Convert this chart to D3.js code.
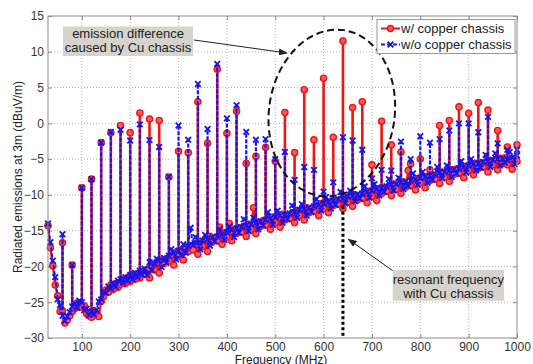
<!DOCTYPE html>
<html>
<head>
<meta charset="utf-8">
<script src="https://cdn.jsdelivr.net/npm/d3@7"></script>
<style>
  body { margin: 0; background: #fff; }
  svg { display: block; font-family: "Liberation Sans", Arial, Helvetica, sans-serif; }
</style>
</head>
<body>
<div id="chart"></div>
<script>
// sweep points, 5 MHz apart (30 ... 1000 MHz)
const freqs = d3.range(30, 1001, 5);

// noise floor w/ copper chassis (dBuV/m), one value per sweep point
const redBase = [
  -14.3, -17.4, -19.9, -22.6, -24.1, -26.3, -26.2, -27.9, -27.5, -26.9,
  -26.3, -25.9, -25.1, -25.6, -25.7, -25.5, -26.6, -26.9, -27.1, -26.2,
  -26.5, -27.0, -24.9, -24.2, -23.3, -23.6, -22.6, -23.2, -22.4, -22.9,
  -22.5, -21.9, -22.4, -21.5, -22.1, -21.1, -21.8, -21.0, -21.6, -20.7,
  -21.0, -20.4, -21.6, -19.9, -20.5, -19.4, -20.9, -19.1, -19.6, -18.9,
  -19.2, -18.5, -19.8, -18.0, -18.6, -17.7, -19.1, -17.3, -17.9, -17.2,
  -17.7, -16.9, -18.3, -16.5, -17.2, -16.3, -17.9, -15.8, -16.6, -16.0,
  -16.4, -14.5, -16.9, -15.3, -15.9, -14.0, -16.4, -14.8, -15.4, -14.6,
  -15.2, -14.4, -15.8, -14.1, -14.8, -11.8, -15.4, -13.8, -14.4, -13.6,
  -14.2, -13.4, -14.8, -13.1, -13.9, -13.0, -14.5, -12.7, -13.5, -12.9,
  -13.3, -12.5, -13.9, -12.2, -12.9, -12.0, -13.5, -11.8, -12.5, -11.9,
  -12.3, -11.5, -12.9, -11.2, -11.9, -11.0, -12.5, -10.9, -11.5, -10.9,
  -11.3, -10.6, -11.9, -10.4, -11.0, -10.2, -11.6, -10.0, -10.7, -10.1,
  -10.5, -9.8, -11.1, -9.5, -10.2, -9.3, -10.8, -9.1, -9.8, -9.2,
  -9.5, -8.8, -10.1, -8.5, -9.2, -8.4, -9.8, -8.2, -8.9, -6.6,
  -8.7, -8.0, -9.3, -7.7, -8.3, -7.5, -9.0, -7.4, -8.0, -7.3,
  -7.8, -7.1, -8.4, -6.8, -7.5, -6.7, -8.1, -6.5, -7.1, -6.4,
  -7.0, -6.3, -7.6, -6.0, -6.6, -5.8, -7.2, -5.6, -6.3, -5.5,
  -6.1, -5.4, -6.8, -5.2, -5.8, -5.1, -6.5, -4.9, -5.6, -4.8,
  -5.8, -5.0, -6.4, -4.9, -5.3
];

// noise floor w/o copper chassis
const blueBase = [
  -14.0, -16.6, -19.2, -21.5, -24.6, -25.4, -26.9, -27.6, -27.0, -26.4,
  -25.6, -25.2, -25.8, -24.8, -25.0, -26.1, -25.9, -26.8, -26.3, -26.7,
  -26.1, -24.9, -24.6, -23.5, -23.7, -22.8, -23.1, -22.3, -22.8, -22.0,
  -21.8, -22.3, -21.5, -22.0, -21.2, -21.8, -20.9, -21.5, -20.6, -21.2,
  -20.3, -21.2, -19.4, -20.5, -19.6, -18.9, -19.2, -20.1, -18.8, -19.5,
  -18.5, -17.6, -18.1, -19.0, -17.8, -18.4, -16.9, -18.1, -17.2, -14.6,
  -17.0, -15.9, -16.7, -17.6, -16.4, -15.6, -16.2, -17.1, -15.9, -16.5,
  -15.8, -14.8, -15.5, -16.3, -15.2, -14.4, -14.9, -15.9, -14.7, -15.3,
  -14.5, -13.4, -14.3, -15.1, -14.1, -13.2, -13.9, -14.8, -13.7, -14.3,
  -13.5, -12.4, -13.3, -14.2, -13.1, -12.2, -12.9, -13.9, -12.8, -13.4,
  -12.6, -11.5, -12.4, -13.2, -12.1, -11.3, -12.0, -12.9, -11.8, -12.4,
  -11.6, -10.6, -11.4, -12.2, -11.2, -10.3, -11.0, -11.9, -10.8, -11.4,
  -10.6, -9.6, -10.5, -11.2, -10.2, -9.4, -10.1, -10.9, -9.9, -10.5,
  -9.8, -8.8, -9.6, -10.4, -9.4, -8.5, -9.2, -10.1, -9.0, -9.6,
  -8.8, -7.8, -8.6, -9.4, -8.5, -7.6, -8.3, -9.2, -8.1, -8.8,
  -8.0, -7.0, -7.8, -8.6, -7.6, -6.8, -7.5, -8.3, -7.3, -7.9,
  -7.1, -6.1, -6.9, -7.7, -6.8, -5.9, -6.6, -7.5, -6.4, -7.0,
  -6.3, -5.3, -6.1, -6.9, -5.9, -5.0, -5.7, -6.6, -5.6, -6.2,
  -5.4, -4.4, -5.3, -6.1, -5.1, -4.2, -5.0, -5.9, -4.9, -5.5,
  -5.1, -4.0, -4.8, -5.7, -4.5
];

// harmonics every 20 MHz, 60 ... 1000 MHz
const peakFreqs = d3.range(60, 1001, 20);
const redPeaks = [
  -16.7, -19.8, -9.0, -7.8, -2.7, -1.3, -0.3, -1.3, 1.45, 0.6,
  0.4, -7.5, -3.9, -4.1, 3.0, -2.8, 7.55, -1.4, 1.7, -5.6,
  -4.6, -3.35, -5.3, 1.5, -4.1, 4.7, -2.3, 6.3, -1.95, 11.5,
  2.2, 3.0, -5.8, 0.3, -3.0, -4.0, -5.7, -5.0, -6.5, -0.3,
  0.4, 2.3, 1.4, 2.9, 1.85, -1.0, -3.3, -3.0
];
const bluePeaks = [
  -15.5, -19.8, -9.0, -7.8, -2.7, -1.2, -0.9, -2.4, -0.15, -2.35,
  -3.3, -7.45, -0.3, -2.3, 5.5, -0.8, 8.3, 0.7, 2.55, -1.2,
  -2.3, -2.2, -5.0, -4.0, -7.9, -6.1, -6.5, -9.55, -8.25, -1.95,
  -2.4, -3.7, -7.7, -6.5, -6.6, -2.55, -5.0, -1.8, -2.7, -2.2,
  -1.0, 0.0, 0.0, -1.25, 0.9, -2.8, -3.7, -3.7
];

const xTicks = [100, 200, 300, 400, 500, 600, 700, 800, 900, 1000];
const yTicks = [-30, -25, -20, -15, -10, -5, 0, 5, 10, 15];
const resonantFreq = 640;

const RED = "#f01414";
const BLUE = "#1414f0";

const W = 533, H = 364;
const margin = { top: 16, right: 16, bottom: 26, left: 48 };

const svg = d3.select("#chart").append("svg")
  .attr("width", W).attr("height", H);

const x = d3.scaleLinear().domain([30, 1000]).range([margin.left, W - margin.right]);
const y = d3.scaleLinear().domain([-30, 15]).range([H - margin.bottom, margin.top]);

// arrow head
svg.append("defs").append("marker")
  .attr("id", "arrow")
  .attr("markerUnits", "userSpaceOnUse")
  .attr("markerWidth", 9).attr("markerHeight", 7)
  .attr("refX", 8).attr("refY", 3.5)
  .attr("orient", "auto")
  .append("path").attr("d", "M0,0L9,3.5L0,7Z").attr("fill", "#222");

// grid
const grid = svg.append("g").attr("stroke", "#b4b4b4").attr("stroke-dasharray", "1,2");
grid.selectAll(".gx").data(xTicks.slice(0, -1)).enter().append("line")
  .attr("x1", d => x(d)).attr("x2", d => x(d))
  .attr("y1", y(-30)).attr("y2", y(15));
grid.selectAll(".gy").data(yTicks.slice(1, -1)).enter().append("line")
  .attr("x1", x(30)).attr("x2", x(1000))
  .attr("y1", d => y(d)).attr("y2", d => y(d));

// axes
const axisColor = "#8a8a8a";
const styleAxis = g => {
  g.select(".domain").remove();
  g.selectAll(".tick line").attr("stroke", axisColor);
  g.selectAll(".tick text").attr("fill", "#333").style("font-size", "12px")
    .style("font-family", "'Liberation Sans', Arial, sans-serif");
};
svg.append("g").attr("transform", `translate(0,${y(-30)})`)
  .call(d3.axisBottom(x).tickValues(xTicks).tickSize(-4).tickPadding(4).tickFormat(d3.format("d")))
  .call(styleAxis);
svg.append("g").attr("transform", `translate(${x(30)},0)`)
  .call(d3.axisLeft(y).tickValues(yTicks).tickSize(-4).tickPadding(4).tickFormat(d3.format("d")))
  .call(styleAxis);
svg.append("g").attr("transform", `translate(0,${y(15)})`)
  .call(d3.axisTop(x).tickValues(xTicks).tickSize(-4).tickFormat(""))
  .call(styleAxis);
svg.append("g").attr("transform", `translate(${x(1000)},0)`)
  .call(d3.axisRight(y).tickValues(yTicks).tickSize(-4).tickFormat(""))
  .call(styleAxis);

// series
const line = d3.line().x(d => x(d.f)).y(d => y(d.v));

function drawSeries(base, peaks, color, dashed, marker) {
  const pts = freqs.map((f, i) => ({ f, v: base[i] }));
  const tops = peakFreqs.map((f, i) => ({ f, v: peaks[i], b: base[freqs.indexOf(f)] }));
  const g = svg.append("g");

  g.append("path").datum(pts)
    .attr("fill", "none").attr("stroke", color)
    .attr("stroke-width", dashed ? 1.8 : 2.2)
    .attr("stroke-dasharray", dashed ? "4,2" : null)
    .attr("d", line);

  g.selectAll(".stem").data(tops).enter().append("line")
    .attr("x1", d => x(d.f)).attr("x2", d => x(d.f))
    .attr("y1", d => y(d.b)).attr("y2", d => y(d.v))
    .attr("stroke", color)
    .attr("stroke-width", dashed ? 2.2 : 2.6)
    .attr("stroke-dasharray", dashed ? "4,1.5" : null);

  marker(g, pts.concat(tops));
}

const circles = (g, data) => g.selectAll(".mk").data(data).enter().append("circle")
  .attr("cx", d => x(d.f)).attr("cy", d => y(d.v)).attr("r", 3.1)
  .attr("fill", "#ff5a5a").attr("stroke", RED).attr("stroke-width", 1.4);

const crosses = (g, data) => g.selectAll(".mk").data(data).enter().append("path")
  .attr("d", d => {
    const cx = x(d.f), cy = y(d.v), s = 2.8;
    return `M${cx - s},${cy - s}L${cx + s},${cy + s}M${cx - s},${cy + s}L${cx + s},${cy - s}`;
  })
  .attr("stroke", BLUE).attr("stroke-width", 1.8).attr("fill", "none");

drawSeries(redBase, redPeaks, RED, false, circles);
drawSeries(blueBase, bluePeaks, BLUE, true, crosses);

// frame
svg.append("rect")
  .attr("x", x(30)).attr("y", y(15))
  .attr("width", x(1000) - x(30)).attr("height", y(-30) - y(15))
  .attr("fill", "none").attr("stroke", axisColor);

// ellipse round the harmonics that differ
svg.append("ellipse")
  .attr("cx", 0).attr("cy", 0)
  .attr("rx", x(747) - x(617)).attr("ry", y(1.44 - 11.7) - y(1.44))
  .attr("transform", `translate(${x(617)},${y(1.44)}) rotate(8)`)
  .attr("fill", "none").attr("stroke", "#111").attr("stroke-width", 2)
  .attr("stroke-dasharray", "7,4");

// resonant frequency marker
svg.append("line")
  .attr("x1", x(resonantFreq)).attr("x2", x(resonantFreq))
  .attr("y1", y(-11.6)).attr("y2", y(-30))
  .attr("stroke", "#000").attr("stroke-width", 3).attr("stroke-dasharray", "3,2.5");

// text boxes with arrows
function textBox(box, lines, arrow) {
  svg.append("line")
    .attr("x1", x(arrow[0])).attr("y1", y(arrow[1]))
    .attr("x2", x(arrow[2])).attr("y2", y(arrow[3]))
    .attr("stroke", "#222").attr("stroke-width", 1).attr("marker-end", "url(#arrow)");
  svg.append("rect")
    .attr("x", x(box[0])).attr("y", y(box[1]))
    .attr("width", x(box[2]) - x(box[0])).attr("height", y(box[3]) - y(box[1]))
    .attr("fill", "#d6d3cd");
  const cx = (x(box[0]) + x(box[2])) / 2;
  lines.forEach(l => {
    svg.append("text").attr("x", cx).attr("y", y(l.v))
      .attr("text-anchor", "middle").attr("fill", "#222")
      .style("font-size", "13px").text(l.t);
  });
}

textBox([61, 13.53, 330, 9.41],
  [{ t: "emission difference", v: 11.86 }, { t: "caused by Cu chassis", v: 9.9 }],
  [332, 11.65, 524, 9.83]);
textBox([743, -20.5, 973, -24.8],
  [{ t: "resonant frequency", v: -22.45 }, { t: "with Cu chassis", v: -24.4 }],
  [743, -20.6, 651.5, -16.2]);

// legend
const lg = svg.append("g").attr("transform", `translate(${x(1000) - 140},19.5)`);
lg.append("rect").attr("width", 138).attr("height", 34)
  .attr("fill", "#fff").attr("stroke", "#999");
const entries = [
  { label: "w/ copper chassis", color: RED, dashed: false, mk: "o" },
  { label: "w/o copper chassis", color: BLUE, dashed: true, mk: "x" }
];
entries.forEach((e, i) => {
  const yy = 9 + i * 16;
  lg.append("line").attr("x1", 4).attr("x2", 23).attr("y1", yy).attr("y2", yy)
    .attr("stroke", e.color).attr("stroke-width", 2)
    .attr("stroke-dasharray", e.dashed ? "4,2" : null);
  if (e.mk === "o") {
    lg.append("circle").attr("cx", 13.5).attr("cy", yy).attr("r", 3)
      .attr("fill", "#ff5a5a").attr("stroke", RED).attr("stroke-width", 1.4);
  } else {
    lg.append("path")
      .attr("d", `M10.7,${yy - 2.8}L16.3,${yy + 2.8}M10.7,${yy + 2.8}L16.3,${yy - 2.8}`)
      .attr("stroke", BLUE).attr("stroke-width", 1.8);
  }
  lg.append("text").attr("x", 24).attr("y", yy + 4.3)
    .attr("fill", "#222").style("font-size", "13px").text(e.label);
});

// axis labels
svg.append("text")
  .attr("transform", `translate(22,${(y(15) + y(-30)) / 2}) rotate(-90)`)
  .attr("text-anchor", "middle").attr("fill", "#222").style("font-size", "12px")
  .text("Radiated emissions at 3m (dBuV/m)");
svg.append("text")
  .attr("x", 281).attr("y", 363.5)
  .attr("text-anchor", "middle").attr("fill", "#222").style("font-size", "12px")
  .text("Frequency (MHz)");
</script>
</body>
</html>
